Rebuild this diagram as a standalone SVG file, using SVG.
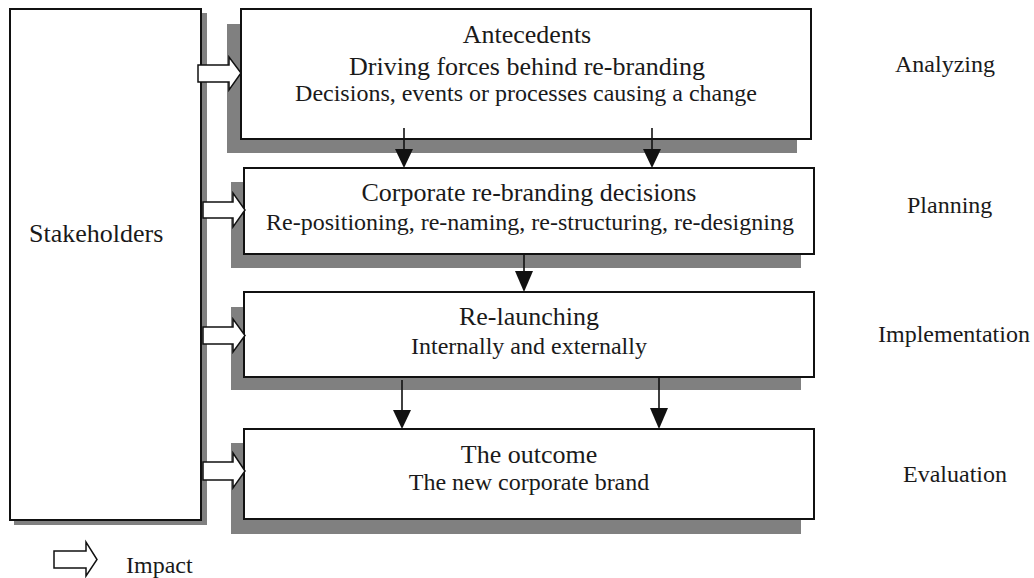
<svg xmlns="http://www.w3.org/2000/svg" width="1034" height="578" viewBox="0 0 1034 578">
<style>
.box{fill:#fff;stroke:#111;stroke-width:2}
.sh{fill:#808080}
.blk{fill:#fff;stroke:#111;stroke-width:1.5;stroke-linejoin:miter}
.t{font-family:"Liberation Serif","Times New Roman",serif;fill:#1a1a1a}
.h{font-size:26px;text-anchor:middle}
.s{font-size:24px;text-anchor:middle}
.l{font-size:24px}
.ln{stroke:#111;stroke-width:1.6}
.tri{fill:#111}
</style>
<rect width="1034" height="578" fill="#fff"/>
<g id="stakeholders">
<rect class="sh" x="14" y="13" width="193" height="512"/>
<rect class="box" x="10" y="9" width="191" height="511"/>
<text class="t l" x="29" y="242" style="font-size:26px">Stakeholders</text>
</g>
<g id="antecedents">
<rect class="sh" x="227" y="24" width="570" height="129"/>
<rect class="box" x="241" y="9" width="570" height="130"/>
<text class="t h" x="527" y="43">Antecedents</text>
<text class="t h" x="527" y="75">Driving forces behind re-branding</text>
<text class="t s" x="526" y="101">Decisions, events or processes causing a change</text>
</g>
<g id="decisions">
<rect class="sh" x="231" y="182" width="570" height="86"/>
<rect class="box" x="244" y="168" width="570" height="86"/>
<text class="t h" x="529" y="201">Corporate re-branding decisions</text>
<text class="t s" x="530" y="230">Re-positioning, re-naming, re-structuring, re-designing</text>
</g>
<g id="relaunching">
<rect class="sh" x="231" y="307" width="570" height="83"/>
<rect class="box" x="244" y="292" width="570" height="85"/>
<text class="t h" x="529" y="325">Re-launching</text>
<text class="t s" x="529" y="354">Internally and externally</text>
</g>
<g id="outcome">
<rect class="sh" x="231" y="443" width="570" height="91"/>
<rect class="box" x="244" y="429" width="570" height="90"/>
<text class="t h" x="529" y="463">The outcome</text>
<text class="t s" x="529" y="490">The new corporate brand</text>
</g>
<g id="phases">
<text class="t l" x="895" y="72">Analyzing</text>
<text class="t l" x="907" y="213">Planning</text>
<text class="t l" x="878" y="342">Implementation</text>
<text class="t l" x="903" y="482">Evaluation</text>
</g>
<g id="connectors">
<path class="blk" d="M198,65 H229 V57 L241,73 L229,90 V82 H198 Z"/>
<path class="blk" d="M203,202 H233 V193 L245,210 L233,227 V218 H203 Z"/>
<path class="blk" d="M203,327 H233 V319 L245,335.5 L233,352 V344 H203 Z"/>
<path class="blk" d="M203,462 H233 V453 L245,471 L233,488 V480 H203 Z"/>
<line class="ln" x1="404" y1="128" x2="404" y2="152"/>
<polygon class="tri" points="395,149 413,149 404,168"/>
<line class="ln" x1="652" y1="128" x2="652" y2="152"/>
<polygon class="tri" points="643,149 661,149 652,168"/>
<line class="ln" x1="524" y1="254" x2="524" y2="274"/>
<polygon class="tri" points="515,271 533,271 524,292"/>
<line class="ln" x1="402" y1="380" x2="402" y2="414"/>
<polygon class="tri" points="393,410 411,410 402,429"/>
<line class="ln" x1="659" y1="377" x2="659" y2="410"/>
<polygon class="tri" points="650,408 668,408 659,429"/>
</g>
<g id="legend">
<path class="blk" d="M54,551 H86 V542 L97,559.5 L86,576 V568 H54 Z"/>
<text class="t l" x="126" y="573">Impact</text>
</g>
</svg>
